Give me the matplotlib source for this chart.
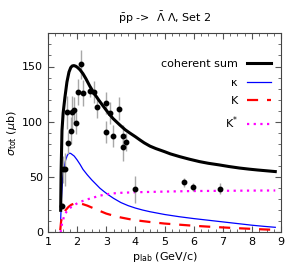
import numpy as np
import matplotlib
matplotlib.use('Agg')
import matplotlib.pyplot as plt
from matplotlib.ticker import MultipleLocator

# experimental points
p_data = [1.49, 1.53, 1.59, 1.68, 1.80, 1.95, 1.64, 1.81, 1.88, 2.04, 2.13, 2.19,
          2.44, 2.58, 2.68, 2.98, 2.98, 3.13, 3.23, 3.44, 3.58, 3.68, 3.58, 3.98,
          5.67, 5.97, 6.91]
sig_data = [24, 57, 57, 81, 92, 99, 108.6, 108.6, 110.7, 127, 152, 126,
            127.5, 127, 113, 117, 91, 108, 87, 112, 87, 82, 77, 39,
            45.5, 41, 39.5]
sig_err = [3, 12, 15, 10, 12, 10, 15, 15, 12, 12, 13, 12,
           5, 10, 10, 10, 10, 10, 10, 10, 10, 8, 12, 12,
           4, 4, 5]

# model curves
p_sum = [1.435, 1.45, 1.48, 1.52, 1.58, 1.65, 1.72, 1.78, 1.83, 1.89, 1.95, 2.02, 2.1,
         2.2, 2.3, 2.44, 2.6, 2.76, 2.9, 3.0, 3.12, 3.23, 3.35, 3.47, 3.65, 3.8, 4.0,
         4.16, 4.3, 4.5, 4.7, 4.84, 5.0, 5.2, 5.52, 5.85, 6.2, 6.5, 6.88, 7.2, 7.57,
         7.9, 8.2, 8.5, 8.8]
sig_sum = [20, 55, 92, 108, 122, 136, 145, 149, 150.5, 150.8, 150.3, 149, 147,
           143.5, 139, 132, 125, 119, 114, 110.5, 106.5, 103, 100, 97, 92.8, 90, 86.5,
           83.5, 81, 78, 75.8, 74.5, 73, 71, 68.5, 66.2, 64, 62.5, 61, 59.6, 58.2,
           57.2, 56.4, 55.7, 55]

p_kappa = [1.435, 1.46, 1.5, 1.55, 1.6, 1.66, 1.7, 1.73, 1.77, 1.8, 1.85, 1.9, 2.0,
           2.1, 2.2, 2.35, 2.5, 2.65, 2.78, 2.92, 3.07, 3.25, 3.5, 3.75, 4.0, 4.25,
           4.5, 5.0, 5.5, 6.0, 6.5, 7.0, 7.5, 8.0, 8.4, 8.8]
sig_kappa = [11, 30, 48, 58, 65, 69.5, 71, 71.5, 71.5, 71, 70, 69, 65.5,
             61.5, 57, 52, 47.5, 43.5, 40, 37, 34, 30.8, 27, 24.2, 22, 20.2,
             18.7, 16.2, 14.2, 12.5, 11, 9.5, 8, 6.5, 5.5, 4.6]

p_K = [1.42, 1.45, 1.5, 1.6, 1.7, 1.8, 1.9, 2.0, 2.1, 2.2, 2.35, 2.5, 2.75, 3.0,
       3.25, 3.5, 3.75, 4.0, 4.5, 5.0, 5.5, 6.0, 6.5, 7.0, 7.5, 8.0, 8.4, 8.8]
sig_K = [2, 10, 15, 20, 23, 25, 26, 26.4, 26.2, 25.5, 24.2, 22.5, 19.7, 17,
         15.1, 13.5, 12.2, 11, 9.4, 8, 7, 6, 5.2, 4.5, 3.8, 3.2, 2.7, 2.3]

p_Kst = [1.435, 1.45, 1.5, 1.57, 1.63, 1.7, 1.8, 1.92, 2.05, 2.2, 2.35, 2.5, 2.75,
         3.0, 3.25, 3.5, 4.0, 4.5, 5.0, 6.0, 7.0, 8.0, 8.8]
sig_Kst = [0, 4, 10, 15.8, 18.5, 20.5, 23, 25, 27, 28.5, 29.9, 31, 33,
           34.5, 35.3, 35.8, 36.3, 36.6, 36.9, 37.4, 37.6, 37.8, 37.9]

fig = plt.figure(figsize=(3.0, 2.8), dpi=100)
ax = fig.add_axes([0.16, 0.17, 0.777, 0.711])

ax.errorbar(p_data, sig_data, yerr=sig_err, fmt='o', color='black', ms=3.2,
            ecolor='#a8a8a8', elinewidth=1.0, capsize=0, zorder=3)

ax.plot(p_sum, sig_sum, color='black', lw=2.2, label='coherent sum', zorder=4)
ax.plot(p_kappa, sig_kappa, color='#0000ff', lw=0.9, label='κ')
ax.plot(p_K, sig_K, color='#ff0000', lw=1.6, dashes=(5, 4), label='K')
ax.plot(p_Kst, sig_Kst, color='#ff00ff', lw=1.6, ls=(0, (1, 2)), label='K$^{*}$')

ax.set_xlim(1, 9)
ax.set_ylim(0, 180)
ax.xaxis.set_major_locator(MultipleLocator(1))
ax.xaxis.set_minor_locator(MultipleLocator(0.25))
ax.yaxis.set_major_locator(MultipleLocator(50))
ax.yaxis.set_minor_locator(MultipleLocator(10))
ax.tick_params(which='both', direction='in', top=True, right=True, labelsize=8,
               color='#555555')
ax.tick_params(which='major', length=4)
ax.tick_params(which='minor', length=2)
for s in ax.spines.values():
    s.set_color('#444444')

ax.set_xlabel(r'p$_{\rm lab}$ (GeV/c)', fontsize=8, labelpad=2)
ax.set_ylabel(r'$\sigma_{\rm tot}$ ($\mu$b)', fontsize=8, labelpad=2)
ax.set_title(r'$\bar{\rm p}$p ->  $\bar{\Lambda}$ $\Lambda$, Set 2', fontsize=8, pad=8)

ax.legend(loc='upper right', frameon=False, fontsize=8, markerfirst=False,
          handlelength=2.2, labelspacing=0.75, bbox_to_anchor=(1.0, 0.92))

fig.savefig('out.png', dpi=100)
